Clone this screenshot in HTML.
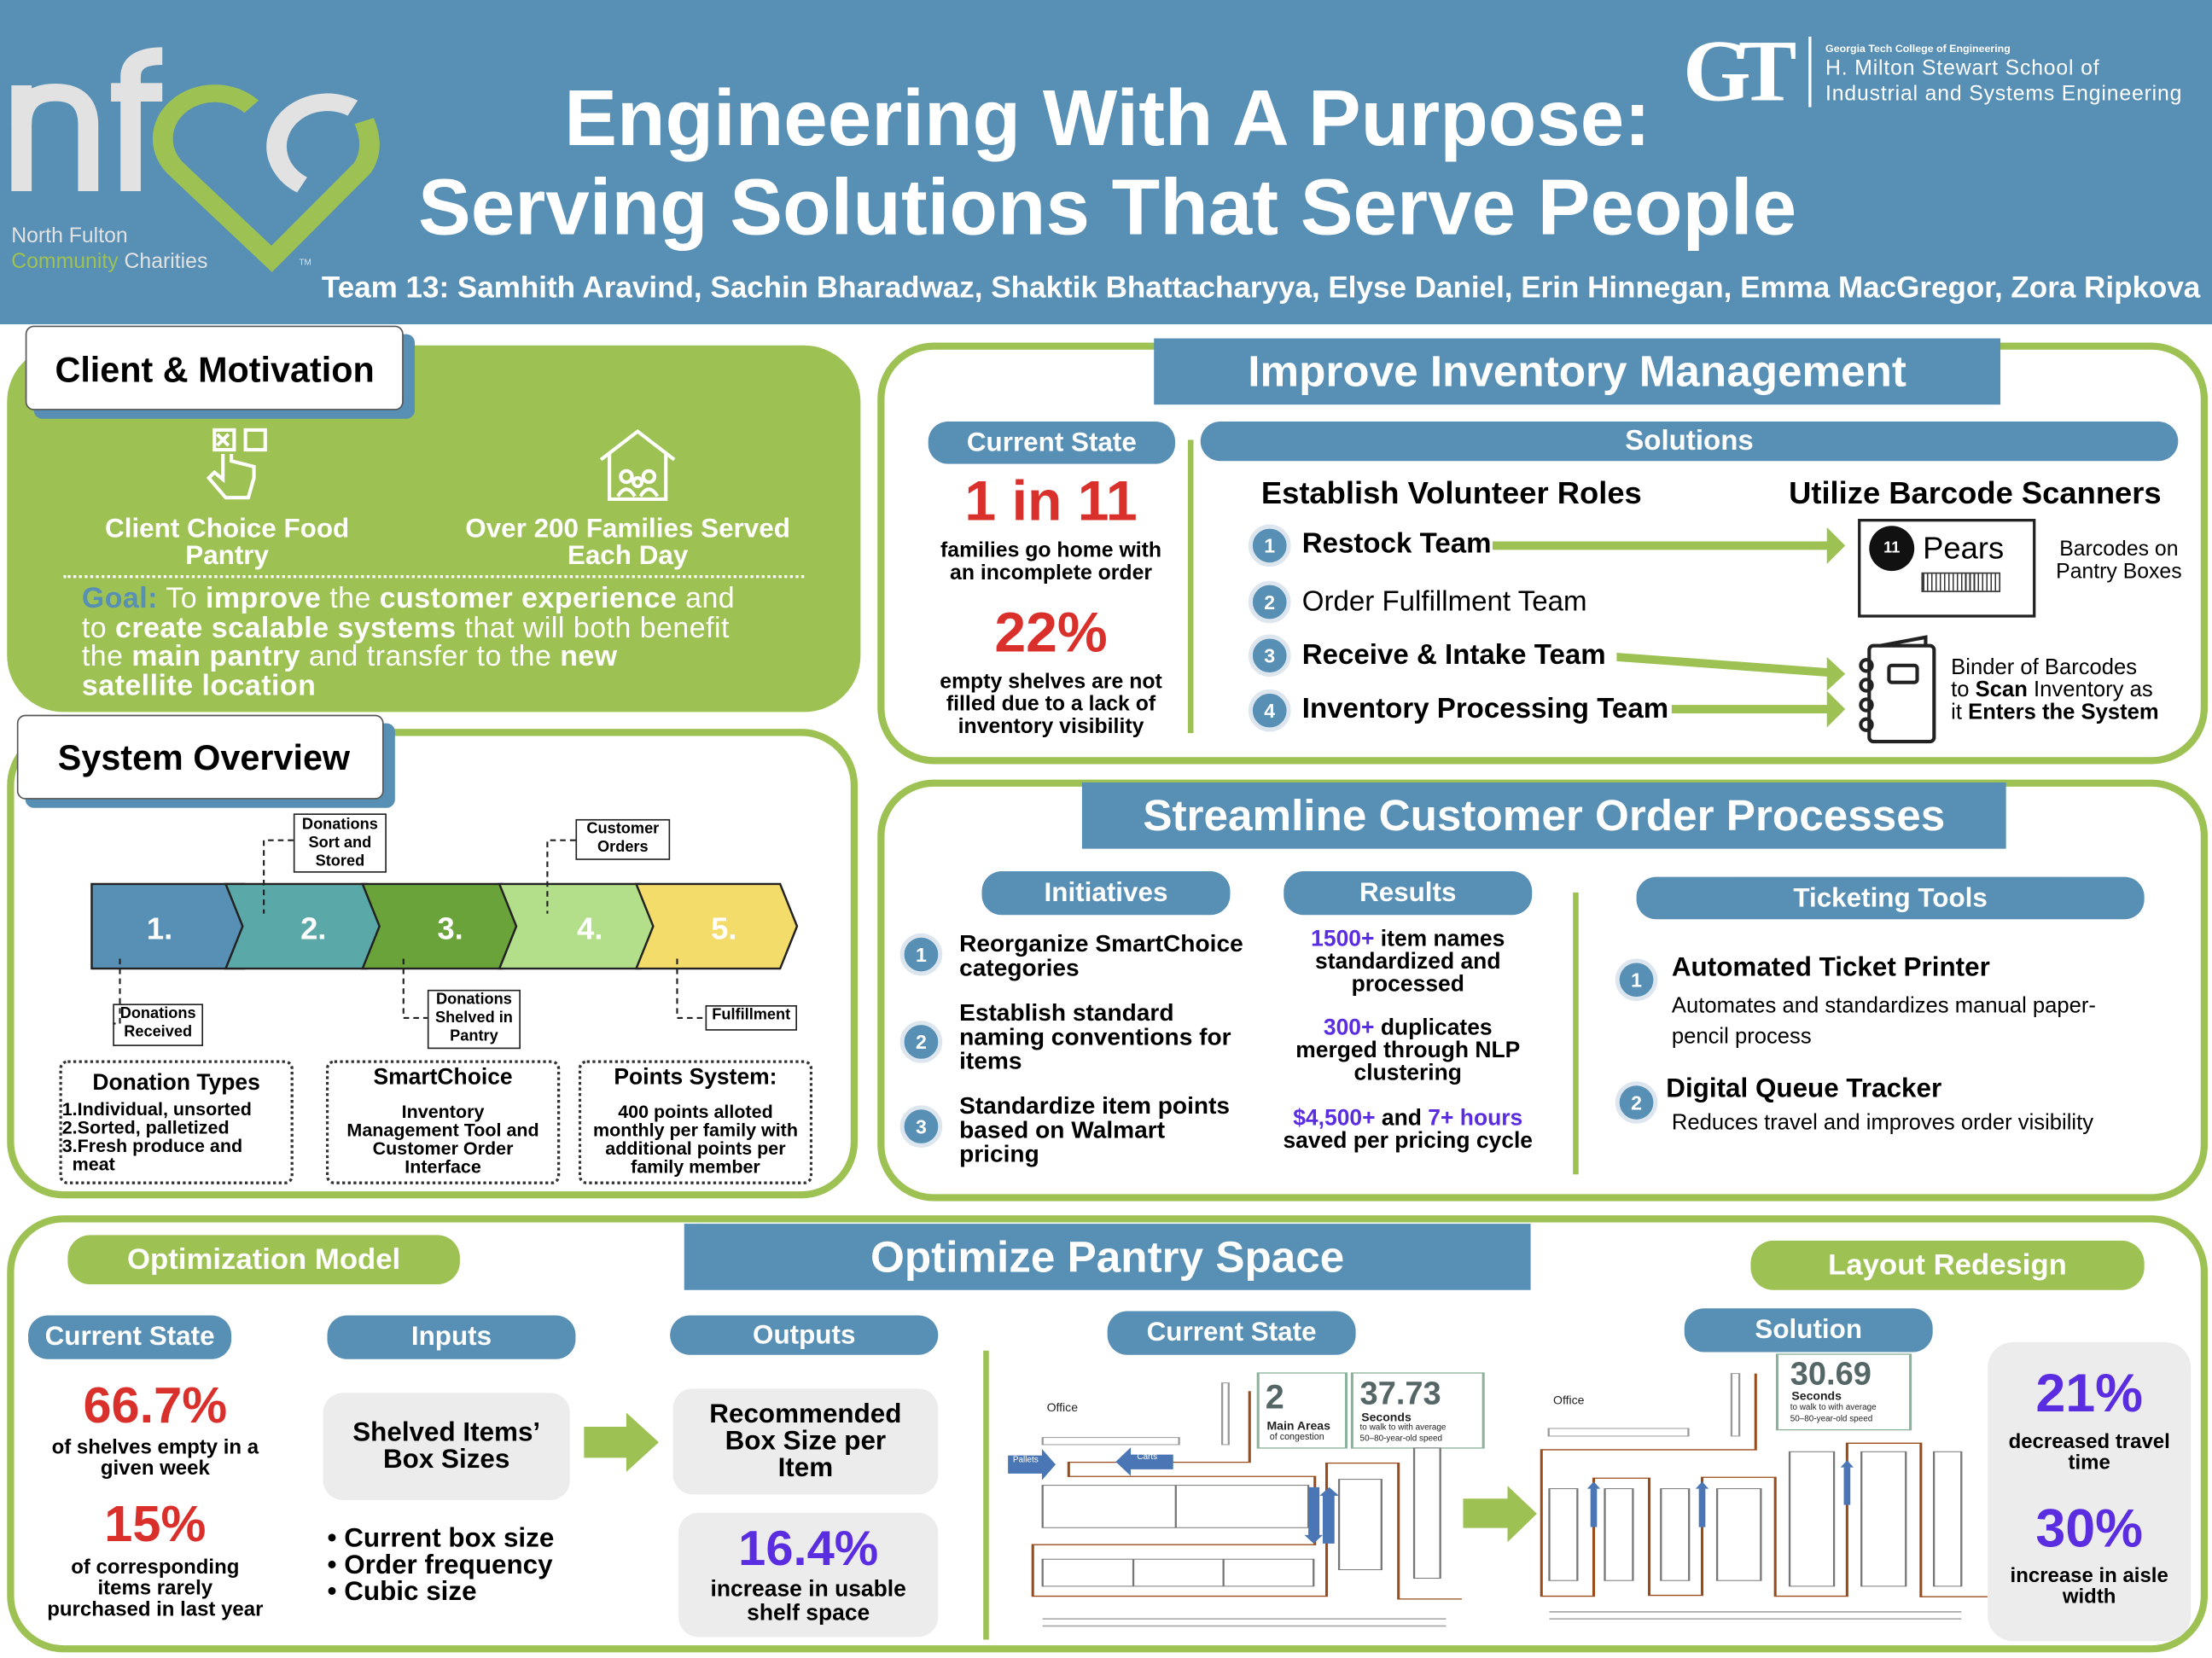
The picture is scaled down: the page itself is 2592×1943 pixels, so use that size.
<!DOCTYPE html>
<html><head><meta charset="utf-8">
<style>
*{margin:0;padding:0;box-sizing:border-box}
body{width:2592px;height:1943px;overflow:hidden;background:#fff;font-family:"Liberation Sans",sans-serif}
#w{position:absolute;left:0;top:0;width:1568px;height:1176px;transform:scale(1.65306,1.6522);transform-origin:0 0}
.a{position:absolute}
.b{font-weight:bold}
.c{text-align:center}
.pill{position:absolute;background:#578fb5;color:#fff;font-weight:bold;text-align:center;border-radius:14px}
.gp{position:absolute;background:#9dc153;color:#fff;font-weight:bold;text-align:center;border-radius:16px}
.bar{position:absolute;background:#578fb5;color:#fff;font-weight:bold;text-align:center}
.panel{position:absolute;border:5px solid #9dc153;border-radius:40px;background:#fff}
.num{position:absolute;width:30px;height:30px;border-radius:50%;background:#578fb5;border:3px solid #dde6ee;color:#fff;font-weight:bold;font-size:14px;text-align:center;line-height:24px}
.red{color:#d9302c}
.pur{color:#5a2de0}
.gray{position:absolute;background:#ececec;border-radius:14px;font-weight:bold;text-align:center;display:flex;align-items:center;justify-content:center}
.dot{position:absolute;border:2px dotted #333;border-radius:6px}
.lb{position:absolute;border:1.5px solid #222;font-size:11px;font-weight:bold;text-align:center;line-height:13px;background:#fff}
.ft{position:absolute;white-space:nowrap;color:#222}
</style></head><body><div id="w">
<!-- header -->
<div class="a" style="left:0;top:0;width:1568px;height:230px;background:#578fb5"></div>
<svg class="a" style="left:0;top:0" width="363" height="230" viewBox="0 0 1568 1140" preserveAspectRatio="none">
<g fill="none" stroke="#e2e2e2" stroke-width="62">
<path d="M66 672 V300"/>
<path d="M66 440 Q66 325 170 325 Q270 325 270 440 V672"/>
<path d="M400 672 V270 Q400 197 497 197"/>
<path d="M1080 380 A125 125 0 1 0 925 650"/>
</g>
<rect x="340" y="292" width="157" height="65" fill="#e2e2e2"/>
<path d="M770 375 A140 140 0 1 0 545 600 L832 910 L1110 590 Q1150 520 1115 425" fill="none" stroke="#9dc153" stroke-width="62" stroke-linejoin="miter"/>
</svg>
<div class="a" style="left:8px;top:159px;font-size:15px;color:#e2e2e2">North Fulton</div>
<div class="a" style="left:8px;top:177px;font-size:15px;color:#9dc153">Community <span style="color:#e2e2e2">Charities</span></div>
<div class="a" style="left:212px;top:184px;font-size:6px;color:#e2e2e2">TM</div>
<div class="a b c" style="left:200px;top:52px;width:1170px;font-size:56px;color:#fff;line-height:63px">Engineering With A Purpose:<br>Serving Solutions That Serve People</div>
<div class="a b" style="left:228px;top:193px;font-size:21.2px;color:#fff;white-space:nowrap">Team 13: Samhith Aravind, Sachin Bharadwaz, Shaktik Bhattacharyya, Elyse Daniel, Erin Hinnegan, Emma MacGregor, Zora Ripkova</div>
<div class="a b" style="left:1193px;top:16px;font-size:62px;color:#fff;font-family:'Liberation Serif',serif;letter-spacing:-9px;line-height:70px">GT</div>
<div class="a" style="left:1282px;top:26px;width:1.5px;height:50px;background:#fff"></div>
<div class="a b" style="left:1294px;top:30px;color:#fff;font-size:7.5px">Georgia Tech College of Engineering</div>
<div class="a" style="left:1294px;top:40px;color:#fff;font-size:15px;line-height:17.5px;letter-spacing:0.5px">H. Milton Stewart School of<br>Industrial and Systems Engineering</div>

<!-- Client & Motivation -->
<div class="a" style="left:5px;top:245px;width:605px;height:260px;background:#9dc153;border-radius:40px"></div>
<div class="a" style="left:24px;top:237px;width:270px;height:60px;background:#578fb5;border-radius:6px"></div>
<div class="a b" style="left:18px;top:231px;width:268px;height:60px;background:#fff;border:1.5px solid #555;border-radius:6px;font-size:25px;line-height:62px;padding-left:20px">Client &amp; Motivation</div>
<svg class="a" style="left:140px;top:300px" width="60" height="60"><g fill="none" stroke="#fff" stroke-width="2.5"><rect x="12" y="5" width="14" height="14"/><rect x="34" y="5" width="14" height="14"/><path d="M14 8 l8 8 M22 8 l-8 8"/><path d="M18 22 v18 l-6 -5 -4 4 12 14 h16 l4 -14 v-8 l-16 -4 v-5"/></g></svg>
<svg class="a" style="left:422px;top:302px" width="60" height="56"><g fill="none" stroke="#fff" stroke-width="2.5"><path d="M4 24 L30 4 L56 24 M10 20 V52 H50 V20"/><circle cx="22" cy="36" r="4"/><circle cx="38" cy="36" r="4"/><circle cx="30" cy="40" r="3"/><path d="M16 50 q6-10 12 0 M32 50 q6-10 12 0"/></g></svg>
<div class="a b c" style="left:50px;top:366px;width:222px;font-size:19px;color:#fff;line-height:19px">Client Choice Food<br>Pantry</div>
<div class="a b c" style="left:300px;top:366px;width:290px;font-size:19px;color:#fff;line-height:19px">Over 200 Families Served<br>Each Day</div>
<div class="a" style="left:45px;top:408px;width:525px;border-top:2px dotted #fff"></div>
<div class="a" style="left:58px;top:415px;width:540px;font-size:20.5px;color:#fff;line-height:20.5px;letter-spacing:0.3px"><span class="b" style="color:#578fb5">Goal:</span> To <b>improve</b> the <b>customer experience</b> and<br>to <b>create scalable systems</b> that will both benefit<br>the <b>main pantry</b> and transfer to the <b>new</b><br><b>satellite location</b></div>

<!-- System Overview -->
<div class="panel" style="left:5px;top:517px;width:603px;height:333px"></div>
<div class="a" style="left:18px;top:513px;width:262px;height:60px;background:#578fb5;border-radius:6px"></div>
<div class="a b" style="left:12px;top:507px;width:260px;height:60px;background:#fff;border:1.5px solid #555;border-radius:6px;font-size:25px;line-height:60px;padding-left:28px">System Overview</div>
<svg class="a" style="left:60px;top:620px" width="512" height="75">
<g stroke="#222" stroke-width="1.5">
<polygon points="5,7 113,7 125,37 113,67 5,67" fill="#578fb5"/>
<polygon points="100,7 200,7 212,37 200,67 100,67 112,37" fill="#5aa8a8"/>
<polygon points="197,7 296,7 308,37 296,67 197,67 209,37" fill="#6aa33a"/>
<polygon points="294,7 394,7 406,37 394,67 294,67 306,37" fill="#b3df8a"/>
<polygon points="391,7 493,7 505,37 493,67 391,67 403,37" fill="#f4dc6a"/>
</g>
<g fill="#fff" font-weight="bold" font-size="22" font-family="Liberation Sans"><text x="44" y="46">1.</text><text x="153" y="46">2.</text><text x="250" y="46">3.</text><text x="349" y="46">4.</text><text x="444" y="46">5.</text></g>
</svg>
<div class="lb" style="left:208px;top:577px;width:66px;height:42px;padding-top:1px">Donations<br>Sort and<br>Stored</div>
<div class="lb" style="left:408px;top:581px;width:67px;height:29px">Customer<br>Orders</div>
<div class="lb" style="left:80px;top:712px;width:64px;height:30px">Donations<br>Received</div>
<div class="lb" style="left:303px;top:702px;width:66px;height:42px">Donations<br>Shelved in<br>Pantry</div>
<div class="lb" style="left:500px;top:713px;width:65px;height:18px">Fulfillment</div>
<svg class="a" style="left:0;top:0" width="610" height="760"><g fill="none" stroke="#222" stroke-width="1.3" stroke-dasharray="4,3"><path d="M208 596 H187 V648"/><path d="M408 596 H388 V648"/><path d="M85 680 V726 H80"/><path d="M286 680 V722 H303"/><path d="M480 680 V722 H500"/></g></svg>
<div class="dot" style="left:42px;top:752px;width:166px;height:88px"></div>
<div class="a b c" style="left:42px;top:760px;width:166px;font-size:16px">Donation Types</div>
<div class="a b" style="left:44px;top:780px;width:164px;font-size:13px;line-height:13px">1.Individual, unsorted<br>2.Sorted, palletized<br>3.Fresh produce and<br>&nbsp;&nbsp;meat</div>
<div class="dot" style="left:231px;top:752px;width:166px;height:88px"></div>
<div class="a b c" style="left:231px;top:756px;width:166px;font-size:16px">SmartChoice</div>
<div class="a b c" style="left:231px;top:782px;width:166px;font-size:13px;line-height:13px">Inventory<br>Management Tool and<br>Customer Order<br>Interface</div>
<div class="dot" style="left:410px;top:752px;width:166px;height:88px"></div>
<div class="a b c" style="left:410px;top:756px;width:166px;font-size:16px">Points System:</div>
<div class="a b c" style="left:410px;top:782px;width:166px;font-size:13px;line-height:13px">400 points alloted<br>monthly per family with<br>additional points per<br>family member</div>

<!-- Improve Inventory -->
<div class="panel" style="left:622px;top:243px;width:943px;height:299px"></div>
<div class="bar" style="left:818px;top:240px;width:600px;height:47px;font-size:31px;line-height:47px">Improve Inventory Management</div>
<div class="pill" style="left:658px;top:299px;width:175px;height:30px;font-size:19px;line-height:31px">Current State</div>
<div class="pill" style="left:851px;top:299px;width:693px;height:28px;font-size:20px;line-height:29px">Solutions</div>
<div class="a" style="left:842px;top:312px;width:4px;height:208px;background:#9dc153"></div>
<div class="a b c red" style="left:655px;top:334px;width:180px;font-size:40px">1 in 11</div>
<div class="a b c" style="left:655px;top:383px;width:180px;font-size:15px;line-height:16px">families go home with<br>an incomplete order</div>
<div class="a b c red" style="left:655px;top:427px;width:180px;font-size:40px">22%</div>
<div class="a b c" style="left:655px;top:476px;width:180px;font-size:15px;line-height:16px">empty shelves are not<br>filled due to a lack of<br>inventory visibility</div>
<div class="a b" style="left:894px;top:337px;font-size:22px">Establish Volunteer Roles</div>
<div class="a b" style="left:1268px;top:337px;font-size:22px">Utilize Barcode Scanners</div>
<div class="num" style="left:885px;top:372px">1</div><div class="a b" style="left:923px;top:375px;font-size:20px">Restock Team</div>
<div class="num" style="left:885px;top:412px">2</div><div class="a" style="left:923px;top:416px;font-size:20px">Order Fulfillment Team</div>
<div class="num" style="left:885px;top:450px">3</div><div class="a b" style="left:923px;top:454px;font-size:20px">Receive &amp; Intake Team</div>
<div class="num" style="left:885px;top:489px">4</div><div class="a b" style="left:923px;top:492px;font-size:20px">Inventory Processing Team</div>
<svg class="a" style="left:1050px;top:360px" width="270" height="170"><g fill="#9dc153"><rect x="8" y="24" width="240" height="6"/><polygon points="245,14 258,27 245,40"/><polygon points="96,103 246,114 246,120 96,109"/><polygon points="245,106 258,118 245,130"/><rect x="135" y="140" width="112" height="6"/><polygon points="245,130 258,143 245,156"/></g></svg>
<div class="a" style="left:1317px;top:368px;width:126px;height:70px;border:2px solid #222"></div>
<div class="a b c" style="left:1325px;top:373px;width:32px;height:32px;border-radius:50%;background:#111;color:#fff;font-size:11px;line-height:32px">11</div>
<div class="a" style="left:1363px;top:376px;font-size:22px">Pears</div>
<div class="a" style="left:1362px;top:406px;width:56px;height:14px;border:1px solid #333;background:repeating-linear-gradient(90deg,#333 0 1px,#fff 1px 3px)"></div>
<div class="a c" style="left:1448px;top:382px;width:108px;font-size:15px;line-height:16px">Barcodes on Pantry Boxes</div>
<svg class="a" style="left:1315px;top:450px" width="60" height="80"><g fill="none" stroke="#222" stroke-width="2.5"><rect x="10" y="8" width="46" height="68" rx="3"/><path d="M18 8 L50 2 V8"/><rect x="24" y="22" width="20" height="12" rx="2"/><g><circle cx="8" cy="22" r="4"/><circle cx="8" cy="36" r="4"/><circle cx="8" cy="50" r="4"/><circle cx="8" cy="64" r="4"/></g></g></svg>
<div class="a" style="left:1383px;top:466px;font-size:15.5px;line-height:16px">Binder of Barcodes<br>to <b>Scan</b> Inventory as<br>it <b>Enters the System</b></div>

<!-- Streamline -->
<div class="panel" style="left:622px;top:553px;width:943px;height:299px"></div>
<div class="bar" style="left:767px;top:555px;width:655px;height:47px;font-size:31px;line-height:47px">Streamline Customer Order Processes</div>
<div class="pill" style="left:696px;top:618px;width:176px;height:31px;font-size:19px;line-height:32px">Initiatives</div>
<div class="pill" style="left:910px;top:618px;width:176px;height:31px;font-size:19px;line-height:32px">Results</div>
<div class="pill" style="left:1160px;top:622px;width:360px;height:30px;font-size:19px;line-height:31px">Ticketing Tools</div>
<div class="a" style="left:1115px;top:633px;width:4px;height:200px;background:#9dc153"></div>
<div class="num" style="left:638px;top:662px">1</div><div class="a b" style="left:680px;top:661px;font-size:17px;line-height:17px">Reorganize SmartChoice<br>categories</div>
<div class="num" style="left:638px;top:724px">2</div><div class="a b" style="left:680px;top:710px;font-size:17px;line-height:17px">Establish standard<br>naming conventions for<br>items</div>
<div class="num" style="left:638px;top:784px">3</div><div class="a b" style="left:680px;top:776px;font-size:17px;line-height:17px">Standardize item points<br>based on Walmart<br>pricing</div>
<div class="a b c" style="left:898px;top:659px;width:200px;font-size:16px;line-height:16px"><span class="pur">1500+</span> item names<br>standardized and<br>processed</div>
<div class="a b c" style="left:898px;top:722px;width:200px;font-size:16px;line-height:16px"><span class="pur">300+</span> duplicates<br>merged through NLP<br>clustering</div>
<div class="a b c" style="left:888px;top:786px;width:220px;font-size:16px;line-height:16px"><span class="pur">$4,500+</span> and <span class="pur">7+ hours</span><br>saved per pricing cycle</div>
<div class="num" style="left:1145px;top:680px">1</div><div class="a b" style="left:1185px;top:676px;font-size:19px">Automated Ticket Printer</div>
<div class="a" style="left:1185px;top:703px;font-size:15.5px;line-height:22px">Automates and standardizes manual paper-<br>pencil process</div>
<div class="num" style="left:1145px;top:767px">2</div><div class="a b" style="left:1181px;top:762px;font-size:19px">Digital Queue Tracker</div>
<div class="a" style="left:1185px;top:788px;font-size:15.5px">Reduces travel and improves order visibility</div>

<!-- Bottom -->
<div class="panel" style="left:5px;top:862px;width:1560px;height:310px"></div>
<div class="bar" style="left:485px;top:868px;width:600px;height:47px;font-size:31px;line-height:47px">Optimize Pantry Space</div>
<div class="gp" style="left:48px;top:876px;width:278px;height:35px;font-size:21px;line-height:36px">Optimization Model</div>
<div class="gp" style="left:1241px;top:880px;width:279px;height:35px;font-size:21px;line-height:36px">Layout Redesign</div>
<div class="pill" style="left:20px;top:933px;width:144px;height:31px;font-size:19px;line-height:32px">Current State</div>
<div class="pill" style="left:232px;top:933px;width:176px;height:31px;font-size:19px;line-height:32px">Inputs</div>
<div class="pill" style="left:475px;top:933px;width:190px;height:28px;font-size:19px;line-height:29px">Outputs</div>
<div class="pill" style="left:785px;top:930px;width:176px;height:31px;font-size:19px;line-height:32px">Current State</div>
<div class="pill" style="left:1194px;top:928px;width:176px;height:31px;font-size:19px;line-height:32px">Solution</div>
<div class="a b c red" style="left:15px;top:976px;width:190px;font-size:36px">66.7%</div>
<div class="a b c" style="left:15px;top:1020px;width:190px;font-size:14.5px;line-height:15px">of shelves empty in a<br>given week</div>
<div class="a b c red" style="left:15px;top:1060px;width:190px;font-size:36px">15%</div>
<div class="a b c" style="left:15px;top:1105px;width:190px;font-size:14.5px;line-height:15px">of corresponding<br>items rarely<br>purchased in last year</div>
<div class="gray" style="left:229px;top:988px;width:175px;height:76px;font-size:19px;line-height:19px">Shelved Items’<br>Box Sizes</div>
<svg class="a" style="left:412px;top:1000px" width="58" height="46"><polygon points="2,12 32,12 32,2 55,23 32,44 32,34 2,34" fill="#9dc153"/></svg>
<div class="gray" style="left:477px;top:985px;width:188px;height:75px;font-size:19px;line-height:19px">Recommended<br>Box Size per<br>Item</div>
<div class="a b" style="left:232px;top:1082px;font-size:19px;line-height:19px">•&nbsp;Current box size<br>•&nbsp;Order frequency<br>•&nbsp;Cubic size</div>
<div class="gray" style="left:481px;top:1073px;width:184px;height:88px;display:block;padding-top:6px"><div class="pur" style="font-size:35px">16.4%</div><div style="font-size:16px;line-height:17px">increase in usable<br>shelf space</div></div>
<div class="a" style="left:697px;top:958px;width:4px;height:205px;background:#9dc153"></div>
<!-- floor plans (drawn in zoom coords) -->
<svg class="a" style="left:695.7px;top:944.2px" width="725.8" height="229.9" viewBox="0 0 1568 1140" preserveAspectRatio="none">
<g fill="#fff" stroke="#999" stroke-width="3">
<rect x="93" y="375" width="209" height="25"/><rect x="368" y="183" width="10" height="217"/>
<rect x="868" y="343" width="214" height="27"/><rect x="1148" y="150" width="12" height="220"/>
</g>
<g fill="#fff" stroke="#8bb39b" stroke-width="4"><rect x="423" y="148" width="135" height="264"/><rect x="567" y="148" width="201" height="264"/><rect x="1218" y="82" width="204" height="266"/></g>
<g fill="none" stroke="#994c1a" stroke-width="4">
<path d="M410 212 V462 H133 V512 H510 V752 H78 V933 H528 V465 H638 V943 H735"/>
<path d="M1185 150 V418 H857 V933 H937 V518 H1022 V930 H1103 V515 H1215 V933 H1325 V395 H1438 V935 H1540"/>
</g>
<g fill="#fff" stroke="#777" stroke-width="3">
<rect x="93" y="543" width="407" height="149"/><line x1="297" y1="543" x2="297" y2="692"/>
<rect x="93" y="803" width="415" height="95"/><line x1="232" y1="803" x2="232" y2="898"/><line x1="370" y1="803" x2="370" y2="898"/>
<rect x="547" y="522" width="65" height="318"/><rect x="662" y="412" width="40" height="458"/>
<rect x="869" y="555" width="43" height="323"/><rect x="954" y="555" width="43" height="323"/><rect x="1040" y="555" width="43" height="323"/><rect x="1126" y="555" width="67" height="323"/>
<rect x="1237" y="425" width="68" height="473"/><rect x="1347" y="425" width="68" height="473"/><rect x="1458" y="425" width="42" height="473"/>
</g>
<g fill="#4a76b5">
<polygon points="40,438 92,438 92,415 113,470 92,525 92,502 40,502"/>
<polygon points="293,435 228,435 228,410 205,460 228,510 228,487 293,487"/>
<polygon points="500,550 517,550 517,718 522,718 508,748 494,718 500,718"/>
<polygon points="522,580 517,580 532,550 547,580 540,580 540,748 522,748"/>
<rect x="932" y="555" width="10" height="135"/><polygon points="927,555 937,530 947,555"/>
<rect x="1098" y="555" width="10" height="135"/><polygon points="1093,555 1103,530 1113,555"/>
<rect x="1320" y="480" width="10" height="132"/><polygon points="1315,480 1325,455 1335,480"/>
</g>
<polygon points="737,590 805,590 805,545 850,643 805,743 805,693 737,693" fill="#9dc153"/>
<g stroke="#aaa" stroke-width="5"><line x1="93" y1="1013" x2="711" y2="1013"/><line x1="93" y1="1038" x2="711" y2="1038"/><line x1="869" y1="988" x2="1500" y2="988"/><line x1="869" y1="1013" x2="1500" y2="1013"/></g>
</svg>
<div class="ft" style="left:742px;top:993px;font-size:8.5px">Office</div>
<div class="ft" style="left:1101px;top:988px;font-size:8.5px">Office</div>
<div class="ft" style="left:718px;top:1033px;font-size:6px;color:#fff">Pallets</div>
<div class="ft" style="left:806px;top:1031px;font-size:6px;color:#fff">Carts</div>
<div class="ft b" style="left:897px;top:978px;font-size:24px;color:#566">2</div>
<div class="ft b" style="left:898px;top:1006px;font-size:8.5px">Main Areas</div>
<div class="ft" style="left:900px;top:1016px;font-size:6.5px">of congestion</div>
<div class="ft b" style="left:964px;top:975px;font-size:23px;color:#566">37.73</div>
<div class="ft b" style="left:965px;top:1000px;font-size:8.5px">Seconds</div>
<div class="ft" style="left:964px;top:1009px;font-size:6px;line-height:8px">to walk to with average<br>50–80-year-old speed</div>
<div class="ft b" style="left:1269px;top:961px;font-size:23px;color:#566">30.69</div>
<div class="ft b" style="left:1270px;top:985px;font-size:8.5px">Seconds</div>
<div class="ft" style="left:1269px;top:995px;font-size:6px;line-height:8px">to walk to with average<br>50–80-year-old speed</div>
<div class="gray" style="left:1409px;top:952px;width:144px;height:212px;display:block;border-radius:18px"></div>
<div class="a b c pur" style="left:1409px;top:968px;width:144px;font-size:38px">21%</div>
<div class="a b c" style="left:1409px;top:1016px;width:144px;font-size:14.5px;line-height:15px">decreased travel<br>time</div>
<div class="a b c pur" style="left:1409px;top:1064px;width:144px;font-size:38px">30%</div>
<div class="a b c" style="left:1409px;top:1111px;width:144px;font-size:14.5px;line-height:15px">increase in aisle<br>width</div>
</div></body></html>
